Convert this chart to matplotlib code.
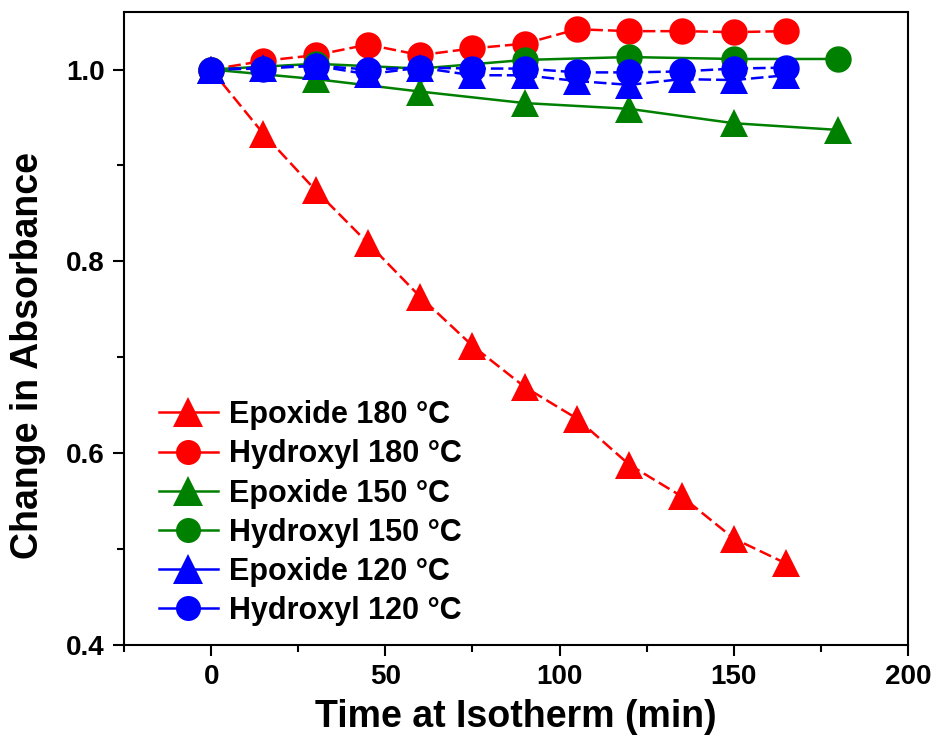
import matplotlib
matplotlib.use("Agg")
import matplotlib.pyplot as plt
from matplotlib.lines import Line2D
from matplotlib.ticker import MultipleLocator, FormatStrFormatter

plt.rcParams['font.family'] = ['Liberation Sans', 'DejaVu Sans']
plt.rcParams['font.weight'] = 'bold'

t15 = [0, 15, 30, 45, 60, 75, 90, 105, 120, 135, 150, 165]
t30 = [0, 30, 60, 90, 120, 150, 180]

epox180 = [1.0, 0.933, 0.874, 0.819, 0.763, 0.712, 0.669, 0.636, 0.588, 0.555, 0.511, 0.485]
hydr180 = [1.0, 1.009, 1.015, 1.026, 1.015, 1.022, 1.027, 1.042, 1.040, 1.040, 1.039, 1.040]
epox150 = [1.0, 0.990, 0.977, 0.965, 0.959, 0.944, 0.937]
hydr150 = [1.0, 1.006, 1.001, 1.010, 1.013, 1.011, 1.011]
epox120 = [1.0, 1.002, 1.004, 0.995, 1.002, 0.994, 0.994, 0.988, 0.984, 0.990, 0.989, 0.994]
hydr120 = [1.0, 1.001, 1.004, 1.000, 1.002, 1.001, 1.001, 0.997, 0.997, 0.998, 1.001, 1.002]

labels = ["Epoxide 180 °C", "Hydroxyl 180 °C", "Epoxide 150 °C",
          "Hydroxyl 150 °C", "Epoxide 120 °C", "Hydroxyl 120 °C"]

dash = (0, (5, 2))
series = [
    (t15, epox180, 'red', '^', dash),
    (t15, hydr180, 'red', 'o', dash),
    (t30, epox150, 'green', '^', '-'),
    (t30, hydr150, 'green', 'o', '-'),
    (t15, epox120, 'blue', '^', dash),
    (t15, hydr120, 'blue', 'o', dash),
]

fig = plt.figure(figsize=(9.41, 7.39), dpi=100)
ax = fig.add_axes([0.1318, 0.1272, 0.8332, 0.8566])

handles = []
for (x, y, c, m, ls), lab in zip(series, labels):
    ax.plot(x, y, color=c, marker=m, linestyle=ls, linewidth=1.8,
            markersize=19 if m == 'o' else 20.5, markeredgewidth=0)
    handles.append(Line2D([], [], color=c, marker=m, linestyle='-', linewidth=1.8,
                          markersize=18 if m == 'o' else 21, markeredgewidth=0))

ax.set_xlim(-25, 200)
ax.set_ylim(0.4, 1.06)
ax.xaxis.set_major_locator(MultipleLocator(50))
ax.xaxis.set_minor_locator(MultipleLocator(25))
ax.yaxis.set_major_locator(MultipleLocator(0.2))
ax.yaxis.set_minor_locator(MultipleLocator(0.1))
ax.yaxis.set_major_formatter(FormatStrFormatter('%.1f'))

for s in ax.spines.values():
    s.set_linewidth(1.5)
ax.tick_params(which='major', direction='out', length=8, width=1.5, labelsize=20, pad=6)
ax.tick_params(which='minor', direction='out', length=5, width=1.5)

ax.set_xlabel("Time at Isotherm (min)", fontsize=27, fontweight='bold', labelpad=6)
ax.set_ylabel("Change in Absorbance", fontsize=27, fontweight='bold')
ax.yaxis.set_label_coords(-0.099, 0.458)

leg = ax.legend(handles, labels, loc='lower left', bbox_to_anchor=(0.044, 0.03),
                frameon=False, fontsize=22, handlelength=1.95, labelspacing=0.3,
                handletextpad=0.36, borderaxespad=0.0, borderpad=0.0)
for txt in leg.get_texts():
    txt.set_fontweight('bold')

fig.savefig("out.png", dpi=100)
